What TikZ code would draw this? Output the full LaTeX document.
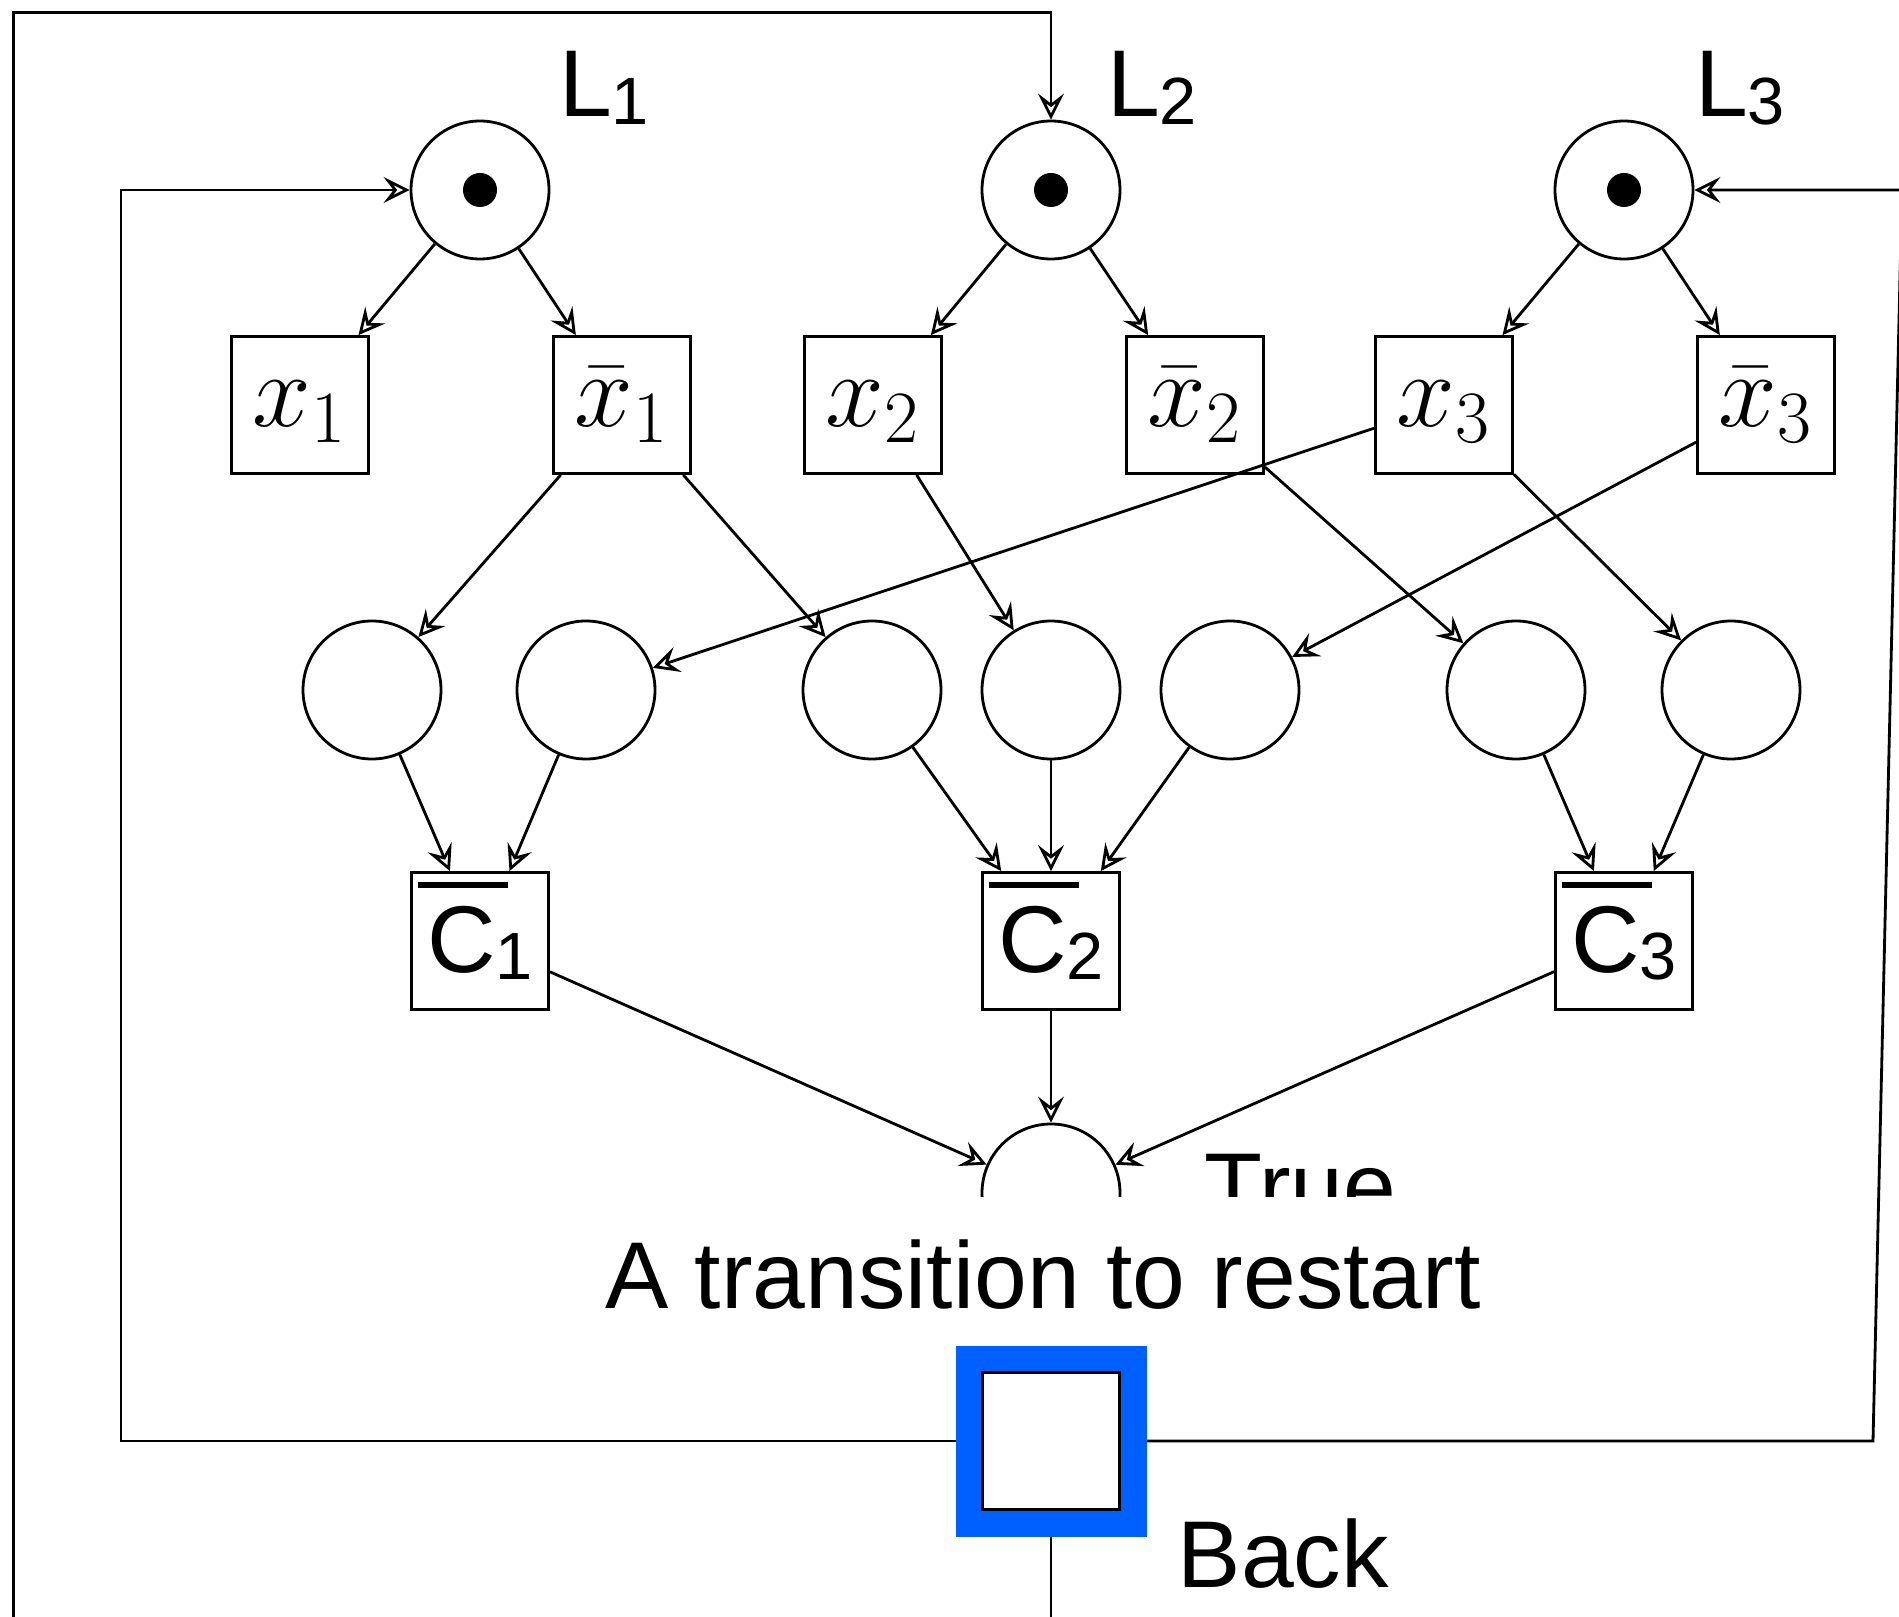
\documentclass[tikz,border=0pt]{standalone}
\usepackage{fix-cm}
\usepackage[no-math]{fontspec}
\setmainfont{Liberation Sans}
\usetikzlibrary{arrows.meta}
\definecolor{hilite}{HTML}{0060FF}
\newcommand{\lsub}[1]{\raisebox{-2pt}{\fontsize{19}{19}\selectfont #1}}
\newcommand{\negc}[1]{\rlap{\hspace{-0.1em}\rule[0.89em]{0.95em}{1.7pt}}C\lsub{#1}}

\begin{document}
\begin{tikzpicture}[
    place/.style={circle, draw, line width=0.8pt, minimum size=13.8mm,
      inner sep=0pt},
    trans/.style={rectangle, draw, line width=0.8pt, minimum size=13.7mm,
      inner sep=0pt},
    token/.style={circle, fill, inner sep=0pt, minimum size=3.4mm},
    arc/.style={line width=0.8pt,
      -{Stealth[open, length=2.6mm, width=2.6mm, inset=1mm]}},
    lbl/.style={font=\fontsize{27}{30}\selectfont, inner sep=0pt},
    mlbl/.style={font=\fontsize{30}{32}\selectfont, text height=16.4pt,
      text depth=4pt}]
  \useasboundingbox (0,0) rectangle (18.99,-16.17);
  % literal places with one token each
  \foreach \i/\x/\lx in {1/4.80/6.04, 2/10.51/11.52, 3/16.24/17.40} {
    \node[place] (L\i) at (\x,-1.90) {};
    \node[token] (tok\i) at (L\i) {};
    \node[lbl, anchor=base] (Llbl\i) at (\lx,-1.17) {L\lsub{\i}};
  }
  % literal transitions
  \foreach \n/\x/\t in {x1/3.00/{x_1}, nx1/6.22/{\bar{x}_1},
      x2/8.73/{x_2}, nx2/11.95/{\bar{x}_2},
      x3/14.44/{x_3}, nx3/17.66/{\bar{x}_3}}
    \node[trans, mlbl] (\n) at (\x,-4.05) {$\t$};
  % literal occurrence places
  \foreach \i/\x in {1/3.72, 2/5.86, 3/8.72, 4/10.51, 5/12.30, 6/15.16, 7/17.31}
    \node[place] (p\i) at (\x,-6.90) {};
  % negated clause transitions
  \foreach \i/\x in {1/4.80, 2/10.51, 3/16.24}
    \node[trans, lbl, text height=26pt, text depth=8pt] (c\i) at (\x,-9.41) {\negc{\i}};
  \node[place] (true) at (10.51,-11.93) {};
  \node[lbl, anchor=base west] (truelbl) at (12.04,-12.19) {True};
  \foreach \a/\b in {L1/x1, L1/nx1, L2/x2, L2/nx2, L3/x3, L3/nx3,
      nx1/p1, nx1/p3, x2/p4, nx2/p6, x3/p2, nx3/p5, x3/p7,
      p1/c1, p2/c1, p3/c2, p4/c2, p5/c2, p6/c3, p7/c3,
      c1/true, c2/true, c3/true}
    \draw[arc] (\a) -- (\b);
  % caption box hides the lower part of True
  \node[lbl, fill=white, inner xsep=4pt, text height=31.6pt, text depth=10pt,
    anchor=base] (restart) at (10.43,-13.08) {A transition to restart};
  % restart transition and its feedback arcs
  \node[trans] (back) at (10.51,-14.41) {};
  \coordinate (wl) at (1.21,-14.41);
  \coordinate (er) at (18.73,-14.41);
  \coordinate (et) at (19.02,-1.90);
  \coordinate (bd) at (10.51,-16.8);
  \coordinate (ol) at (0.134,-0.127);
  \draw[arc] (back) -- (wl) |- (L1);
  \draw[arc] (back) -- (er) -- (et) -- (L3);
  \draw[arc] (back) -- (bd) -| (ol) -| (L2);
  \node[draw=hilite, line width=2.7mm, minimum size=16.4mm, inner sep=0pt]
    (backframe) at (back) {};
  \node[trans, fill=white] (backbox) at (back) {};
  \node[lbl, anchor=base west] (backlbl) at (11.77,-15.87) {Back};
\end{tikzpicture}
\end{document}
